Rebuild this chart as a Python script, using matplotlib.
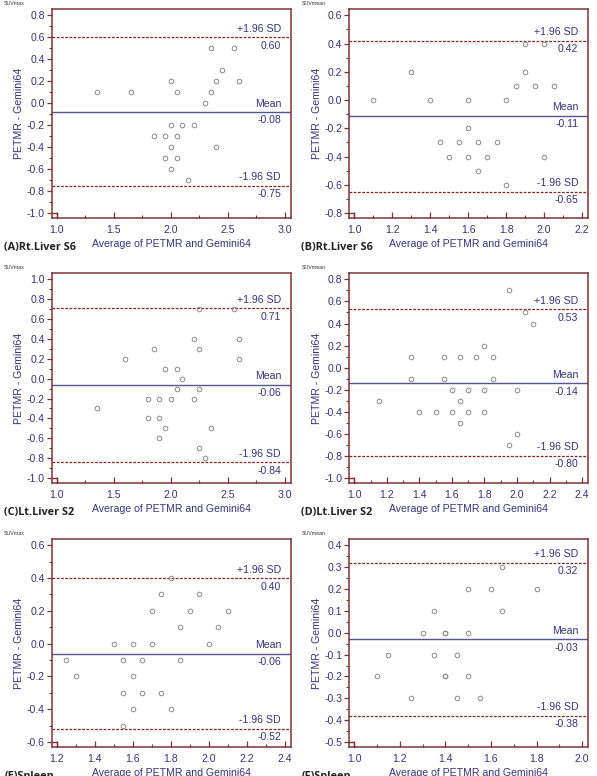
import numpy as np
import matplotlib
matplotlib.use('Agg')
import matplotlib.pyplot as plt
from matplotlib.ticker import AutoMinorLocator

# panel titles and SUV type
panelNames = ['(A)Rt.Liver S6', '(B)Rt.Liver S6', '(C)Lt.Liver S2',
              '(D)Lt.Liver S2', '(E)Spleen', '(F)Spleen']
suvTypes = ['SUVmax', 'SUVmean', 'SUVmax', 'SUVmean', 'SUVmax', 'SUVmean']

# averages (x) and differences (y)
avgA = [1.35, 1.65, 2.0, 2.05, 2.35, 2.55, 2.45, 2.4, 2.6, 2.35, 2.3, 2.0, 2.1, 2.2,
        1.85, 1.95, 2.05, 2.0, 2.4, 1.95, 2.05, 2.0, 2.15]
diffA = [0.1, 0.1, 0.2, 0.1, 0.5, 0.5, 0.3, 0.2, 0.2, 0.1, 0.0, -0.2, -0.2, -0.2,
         -0.3, -0.3, -0.3, -0.4, -0.4, -0.5, -0.5, -0.6, -0.7]

avgB = [1.1, 1.3, 1.4, 1.6, 1.6, 1.45, 1.55, 1.65, 1.75, 1.5, 1.6, 1.7, 1.65, 1.8,
        1.8, 1.85, 1.9, 1.9, 2.0, 1.95, 2.05, 2.0]
diffB = [0.0, 0.2, 0.0, 0.0, -0.2, -0.3, -0.3, -0.3, -0.3, -0.4, -0.4, -0.4, -0.5, -0.6,
         0.0, 0.1, 0.2, 0.4, 0.4, 0.1, 0.1, -0.4]

avgC = [2.25, 2.55, 2.2, 2.6, 1.85, 2.25, 1.6, 2.6, 1.95, 2.05, 2.1, 2.05, 2.25, 1.8,
        1.9, 2.0, 2.2, 1.35, 1.8, 1.9, 1.95, 2.35, 1.9, 2.25, 2.3]
diffC = [0.7, 0.7, 0.4, 0.4, 0.3, 0.3, 0.2, 0.2, 0.1, 0.1, 0.0, -0.1, -0.1, -0.2,
         -0.2, -0.2, -0.2, -0.3, -0.4, -0.4, -0.5, -0.5, -0.6, -0.7, -0.8]

avgD = [1.95, 2.05, 2.1, 1.8, 1.35, 1.55, 1.65, 1.75, 1.85, 1.35, 1.55, 1.85, 1.6,
        1.7, 1.8, 2.0, 1.15, 1.65, 1.4, 1.5, 1.6, 1.7, 1.8, 1.65, 2.0, 1.95]
diffD = [0.7, 0.5, 0.4, 0.2, 0.1, 0.1, 0.1, 0.1, 0.1, -0.1, -0.1, -0.1, -0.2,
         -0.2, -0.2, -0.2, -0.3, -0.3, -0.4, -0.4, -0.4, -0.4, -0.4, -0.5, -0.6, -0.7]

avgE = [1.8, 1.75, 1.95, 1.7, 1.9, 2.1, 1.85, 2.05, 1.5, 1.6, 1.7, 2.0, 1.25, 1.55,
        1.65, 1.85, 1.3, 1.6, 1.55, 1.65, 1.75, 1.6, 1.8, 1.55]
diffE = [0.4, 0.3, 0.3, 0.2, 0.2, 0.2, 0.1, 0.1, 0.0, 0.0, 0.0, 0.0, -0.1, -0.1,
         -0.1, -0.1, -0.2, -0.2, -0.3, -0.3, -0.3, -0.4, -0.4, -0.5]

avgF = [1.65, 1.5, 1.6, 1.8, 1.35, 1.65, 1.3, 1.4, 1.4, 1.5, 1.15, 1.35, 1.45, 1.1,
        1.4, 1.4, 1.5, 1.25, 1.45, 1.55]
diffF = [0.3, 0.2, 0.2, 0.2, 0.1, 0.1, 0.0, 0.0, 0.0, 0.0, -0.1, -0.1, -0.1, -0.2,
         -0.2, -0.2, -0.2, -0.3, -0.3, -0.3]

avgs = [avgA, avgB, avgC, avgD, avgE, avgF]
diffs = [diffA, diffB, diffC, diffD, diffE, diffF]

means = [-0.08, -0.11, -0.06, -0.14, -0.06, -0.03]
upperLoA = [0.60, 0.42, 0.71, 0.53, 0.40, 0.32]
lowerLoA = [-0.75, -0.65, -0.84, -0.80, -0.52, -0.38]

xTicks = [[1.0, 1.5, 2.0, 2.5, 3.0],
          [1.0, 1.2, 1.4, 1.6, 1.8, 2.0, 2.2],
          [1.0, 1.5, 2.0, 2.5, 3.0],
          [1.0, 1.2, 1.4, 1.6, 1.8, 2.0, 2.2, 2.4],
          [1.2, 1.4, 1.6, 1.8, 2.0, 2.2, 2.4],
          [1.0, 1.2, 1.4, 1.6, 1.8, 2.0]]
yTicks = [[-1.0, -0.8, -0.6, -0.4, -0.2, 0.0, 0.2, 0.4, 0.6, 0.8],
          [-0.8, -0.6, -0.4, -0.2, 0.0, 0.2, 0.4, 0.6],
          [-1.0, -0.8, -0.6, -0.4, -0.2, 0.0, 0.2, 0.4, 0.6, 0.8, 1.0],
          [-1.0, -0.8, -0.6, -0.4, -0.2, 0.0, 0.2, 0.4, 0.6, 0.8],
          [-0.6, -0.4, -0.2, 0.0, 0.2, 0.4, 0.6],
          [-0.5, -0.4, -0.3, -0.2, -0.1, 0.0, 0.1, 0.2, 0.3, 0.4]]

frameCol = '#7d3434'
textCol = '#34347a'
meanCol = '#55558f'
loaCol = '#8c2323'

plt.rcParams['font.family'] = ['Liberation Sans', 'DejaVu Sans']
plt.rcParams['font.size'] = 7.6

fig = plt.figure(figsize=(5.97, 7.76), dpi=100)

# axes boxes in figure fraction: left, bottom, width, height
lefts = [0.087, 0.585]
rows = [(0.719, 0.9884), (0.3776, 0.6482), (0.0374, 0.3054)]

for i in range(6):
    col = i % 2
    r0, r1 = rows[i // 2]
    ax = fig.add_axes([lefts[col], r0, 0.400, r1 - r0])

    ax.plot(avgs[i], diffs[i], 'o', mfc='none', mec='#8a8a8a', ms=3.3, mew=0.7,
            zorder=3)

    ax.axhline(means[i], color=meanCol, lw=1.0)
    ax.axhline(upperLoA[i], color=loaCol, lw=0.9, ls=(0, (2.2, 1.2)))
    ax.axhline(lowerLoA[i], color=loaCol, lw=0.9, ls=(0, (2.2, 1.2)))

    # labels over and under the lines
    for val, name in [(upperLoA[i], '+1.96 SD'), (means[i], 'Mean'),
                      (lowerLoA[i], '-1.96 SD')]:
        ax.annotate(name, xy=(1, val), xycoords=('axes fraction', 'data'),
                    xytext=(-7, 2.5), textcoords='offset points',
                    ha='right', va='bottom', color=textCol)
        ax.annotate('%.2f' % val, xy=(1, val), xycoords=('axes fraction', 'data'),
                    xytext=(-7, -2.5), textcoords='offset points',
                    ha='right', va='top', color=textCol)

    xt = xTicks[i]
    yt = yTicks[i]
    xr = xt[-1] - xt[0]
    yr = yt[-1] - yt[0]
    ax.set_xlim(xt[0] - 0.022 * xr, xt[-1] + 0.026 * xr)
    ax.set_ylim(yt[0] - 0.025 * yr, yt[-1] + 0.032 * yr)
    ax.set_xticks(xt)
    ax.set_yticks(yt)
    ax.set_xticklabels(['%.1f' % v for v in xt])
    ax.set_yticklabels(['%.1f' % v for v in yt])
    ax.xaxis.set_minor_locator(AutoMinorLocator(2))
    ax.yaxis.set_minor_locator(AutoMinorLocator(2))

    ax.tick_params(axis='x', which='major', direction='in', length=4, width=0.9,
                   colors=frameCol, labelcolor=textCol, pad=5)
    ax.tick_params(axis='x', which='minor', direction='in', length=2.5, width=0.8,
                   colors=frameCol)
    ax.tick_params(axis='y', which='major', direction='out', length=3.5, width=0.9,
                   colors=frameCol, labelcolor=textCol, pad=1.5)
    ax.tick_params(axis='y', which='minor', direction='out', length=2.5, width=0.8,
                   colors=frameCol)

    for sp in ax.spines.values():
        sp.set_color(frameCol)
        sp.set_linewidth(1.1)

    # small corner bracket at the first ticks
    ylo = ax.get_ylim()[0]
    xlo = ax.get_xlim()[0]
    ax.plot([xlo, xt[0], xt[0]], [yt[0], yt[0], ylo], color=frameCol, lw=1.0,
            clip_on=False)

    ax.set_xlabel('Average of PETMR and Gemini64', color=textCol, labelpad=3)
    ax.set_ylabel('PETMR - Gemini64', color=textCol, labelpad=2)

    ax.text(-0.2, 1.015, suvTypes[i], transform=ax.transAxes, fontsize=3.8,
            color='#333333', ha='left', va='bottom')
    ax.text(-0.2, -0.115, panelNames[i], transform=ax.transAxes, fontsize=7.8,
            fontweight='bold', family=['Open Sans', 'DejaVu Sans'],
            color='#222222', ha='left', va='top')

fig.savefig('out.png', dpi=100)
